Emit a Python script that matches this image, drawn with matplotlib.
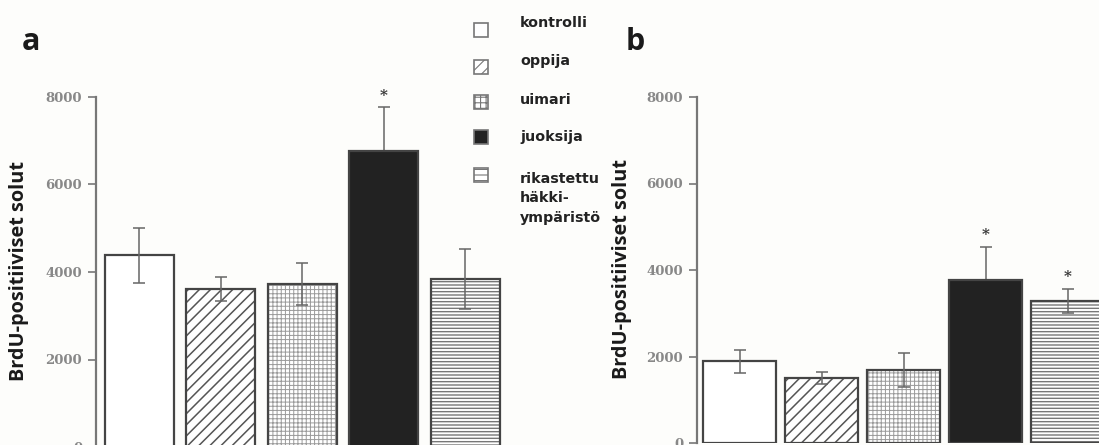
import matplotlib
matplotlib.use("Agg")
import matplotlib.pyplot as plt
from matplotlib.patches import Rectangle

# ---- data ----
groups = ["kontrolli", "oppija", "uimari", "juoksija", "rikastettu\nhäkki-\nympäristö"]
values_a = [4380, 3610, 3720, 6760, 3840]
errors_a = [620, 270, 480, 1000, 690]
values_b = [1890, 1500, 1690, 3770, 3280]
errors_b = [260, 140, 390, 760, 280]
stars_a = [False, False, False, True, False]
stars_b = [False, False, False, True, True]
yticks = [0, 2000, 4000, 6000, 8000]
ylabel = "BrdU-positiiviset solut"

W, H = 1099, 445
BG = "#fdfdfb"

fig = plt.figure(figsize=(W / 100, H / 100), dpi=100, facecolor=BG)

styles = [
    dict(face="white", hatch=None, hcol="#444", hlw=1.0),
    dict(face="white", hatch="///", hcol="#555", hlw=1.1),
    dict(face="white", hatch="++++", hcol="#9a9a9a", hlw=0.7),
    dict(face="#222222", hatch=None, hcol="#222", hlw=1.0),
    dict(face="white", hatch="-----", hcol="#777", hlw=1.0),
]


def px_axes(x0, x1, y0, y1):
    return [x0 / W, (H - y1) / H, (x1 - x0) / W, (y1 - y0) / H]


def panel(rect, values, errors, stars, width, xlim):
    ax = fig.add_axes(rect)
    ax.set_facecolor("none")
    for i, (v, e) in enumerate(zip(values, errors)):
        st = styles[i]
        if st["hatch"]:
            with plt.rc_context({"hatch.linewidth": st["hlw"]}):
                bc = ax.bar(i, v, width, color=st["face"], edgecolor=st["hcol"],
                            hatch=st["hatch"], linewidth=0, zorder=2)
                for p in bc:
                    if hasattr(p, "set_hatch_linewidth"):
                        p.set_hatch_linewidth(st["hlw"])
            ax.bar(i, v, width, color="none", edgecolor="#444",
                   linewidth=1.6, zorder=3)
        else:
            ax.bar(i, v, width, color=st["face"], edgecolor="#444",
                   linewidth=1.6, zorder=2)
        dark = st["face"] != "white"
        ax.errorbar([i], [v], yerr=[e], fmt="none", ecolor="#666",
                    elinewidth=1.1, capsize=4, capthick=1.1,
                    zorder=1 if dark else 4)
        if stars[i]:
            ax.text(i, v + e + 110, "*", ha="center", va="bottom",
                    fontsize=11, color="#333", family="DejaVu Serif",
                    fontweight="bold")
    ax.set_ylim(0, 8000)
    ax.set_xlim(*xlim)
    ax.set_yticks(yticks)
    ax.set_yticklabels([str(t) for t in yticks], family="DejaVu Serif",
                       fontweight="bold", fontsize=9.5, color="#888")
    ax.tick_params(axis="y", length=6, width=1.2, color="#777", pad=4)
    ax.set_xticks([])
    for s in ["top", "right", "bottom"]:
        ax.spines[s].set_visible(False)
    ax.spines["left"].set_color("#777")
    ax.spines["left"].set_linewidth(1.6)
    ax.spines["left"].set_bounds(0, 8000)
    return ax


panel(px_axes(96, 514, 97, 447), values_a, errors_a, stars_a, 0.85, (-0.534, 4.6))
panel(px_axes(697, 1117, 97, 443), values_b, errors_b, stars_b, 0.89, (-0.524, 4.6))

# overlay in pixel coordinates
ov = fig.add_axes([0, 0, 1, 1])
ov.set_xlim(0, W)
ov.set_ylim(H, 0)
ov.axis("off")
ov.patch.set_alpha(0)

ov.text(22, 50, "a", fontsize=22, fontweight="bold", family="Open Sans",
        color="#1a1a1a", va="baseline")
ov.text(626, 50, "b", fontsize=22, fontweight="bold", family="Open Sans",
        color="#1a1a1a", va="baseline")

ov.text(19, 271, ylabel, rotation=90, ha="center", va="center",
        fontsize=14.3, fontweight="bold", family="Open Sans", color="#1a1a1a")
ov.text(622, 269, ylabel, rotation=90, ha="center", va="center",
        fontsize=14.3, fontweight="bold", family="Open Sans", color="#1a1a1a")

# legend
sq_y = [30, 67, 102, 137, 175]
text_base = [27, 65, 104, 141, 183]
leg_hatch = {1: "///", 2: "+++", 4: "---"}
for i, (g, yc, yb) in enumerate(zip(groups, sq_y, text_base)):
    st = styles[i]
    with plt.rc_context({"hatch.linewidth": 0.8}):
        ov.add_patch(Rectangle((474, yc - 7), 14, 14, facecolor=st["face"],
                               edgecolor="#777", linewidth=1.2,
                               hatch=leg_hatch.get(i)))
    for j, ln in enumerate(g.split("\n")):
        ov.text(520, yb + j * 19.5, ln, fontsize=10.3, fontweight="bold",
                family="DejaVu Sans", color="#222", va="baseline")

fig.savefig("out.png", dpi=100, facecolor=BG)
